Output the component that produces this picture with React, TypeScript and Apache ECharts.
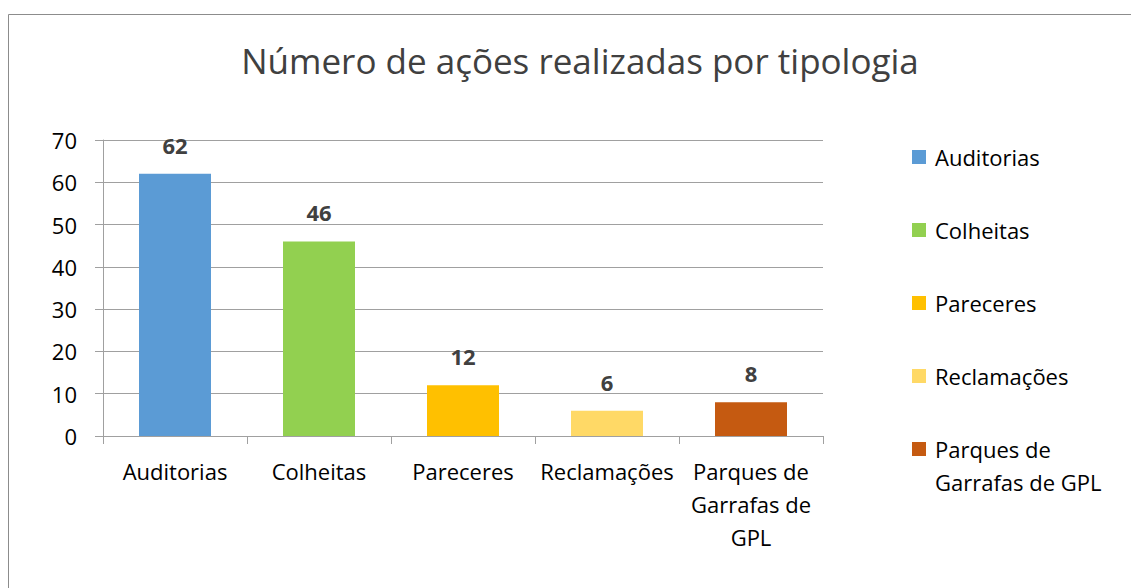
import React, { useEffect, useRef } from "react";
import * as echarts from "echarts";

const categories = ["Auditorias", "Colheitas", "Pareceres", "Reclamações", "Parques de Garrafas de GPL"];
const categoryLabels = ["Auditorias", "Colheitas", "Pareceres", "Reclamações", "Parques de\nGarrafas de\nGPL"];
const legendLabels = ["Auditorias", "Colheitas", "Pareceres", "Reclamações", " \nParques de\nGarrafas de GPL"];
const values = [62, 46, 12, 6, 8];
const colors = ["#5B9BD5", "#92D050", "#FFC000", "#FFD966", "#C55A11"];
const yTicks = { min: 0, max: 70, interval: 10 };
const titleText = "Número de ações realizadas por tipologia";

const FONT = "'Open Sans', sans-serif";

export default function App() {
  const ref = useRef<HTMLDivElement>(null);
  useEffect(() => {
    if (!ref.current) return;
    const chart = echarts.init(ref.current, null, { renderer: "svg" });
    const last = categories.length - 1;
    const series = categories.map((name, i) => ({
      type: "bar" as const,
      name,
      data: categories.map((_, j) => (j === i ? values[j] : "-")),
      barWidth: 72,
      barGap: "-100%",
      itemStyle: { color: colors[i] },
      label: {
        show: true,
        position: "top" as const,
        distance: 18,
        fontFamily: FONT,
        fontSize: 22,
        fontWeight: "bold" as const,
        color: "#404040",
        lineHeight: 22,
      },
    }));
    const legendBase = {
      orient: "vertical" as const,
      left: 912,
      padding: 0,
      itemWidth: 14,
      itemHeight: 14,
      icon: "rect",
      formatter: (name: string) => legendLabels[categories.indexOf(name)],
      textStyle: { fontFamily: FONT, fontSize: 22, color: "#000", lineHeight: 33, padding: [0, 0, 0, 4] },
    };
    chart.setOption({
      animation: false,
      backgroundColor: "#fff",
      title: {
        text: titleText,
        left: 575,
        textAlign: "center",
        top: 33,
        textStyle: { fontFamily: FONT, fontSize: 35, fontWeight: "normal", color: "#404040", lineHeight: 44 },
      },
      graphic: [
        {
          type: "rect",
          shape: { x: 8.5, y: 14.5, width: 1300, height: 800 },
          style: { fill: "none", stroke: "#8C8C8C", lineWidth: 1 },
          silent: true,
        },
      ],
      legend: [
        {
          ...legendBase,
          top: 140.5,
          itemGap: 40,
          data: categories.slice(0, last),
        },
        {
          ...legendBase,
          top: 399.5,
          data: [categories[last]],
        },
      ],
      grid: { left: 103, right: 308, top: 140, bottom: 152, containLabel: false },
      xAxis: {
        type: "category",
        data: categories,
        axisLine: { show: true, lineStyle: { color: "#A0A0A0", width: 1 } },
        axisTick: { show: true, length: 8, interval: 0, alignWithLabel: false, lineStyle: { color: "#A0A0A0" } },
        axisLabel: {
          interval: 0,
          margin: 18,
          fontFamily: FONT,
          fontSize: 22,
          color: "#000",
          lineHeight: 33,
          formatter: (v: string) => categoryLabels[categories.indexOf(v)],
        },
      },
      yAxis: {
        type: "value",
        min: yTicks.min,
        max: yTicks.max,
        interval: yTicks.interval,
        axisLine: { show: true, lineStyle: { color: "#A0A0A0", width: 1 } },
        axisTick: { show: true, length: 8, lineStyle: { color: "#A0A0A0" } },
        splitLine: { show: true, lineStyle: { color: "#A0A0A0", width: 1 } },
        axisLabel: { margin: 26, fontFamily: FONT, fontSize: 22, color: "#000" },
      },
      series,
    });
    return () => chart.dispose();
  }, []);
  return <div ref={ref} style={{ position: "absolute", left: 0, top: 0, width: 1131, height: 588 }} />;
}
